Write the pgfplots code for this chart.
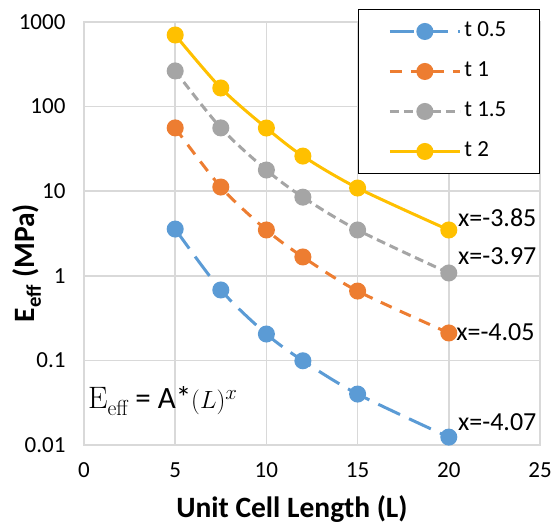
\documentclass[border=0pt]{standalone}
\usepackage{pgfplots}
\pgfplotsset{compat=1.18}
\usepackage{fontspec}
\setmainfont{Carlito}

\definecolor{cBlue}{HTML}{5B9BD5}
\definecolor{cOrange}{HTML}{ED7D31}
\definecolor{cGray}{HTML}{A5A5A5}
\definecolor{cGold}{HTML}{FFC000}
\definecolor{cGrid}{HTML}{D9D9D9}

\newcommand{\serif}{\fontfamily{lmr}\selectfont}

\begin{document}
\begin{tikzpicture}
\path[use as bounding box] (-84pt,-82pt) rectangle (473pt,445pt);
\begin{axis}[
  at={(0pt,0pt)}, anchor=south west,
  scale only axis, width=456pt, height=423pt,
  xmin=0, xmax=25, ymin=0.01, ymax=1000, ymode=log,
  xtick={0,5,10,15,20,25},
  ytick={0.01,0.1,1,10,100,1000},
  yticklabels={0.01,0.1,1,10,100,1000},
  /pgf/number format/assume math mode=true,
  grid=major, minor grid style={draw=none},
  grid style={cGrid, line width=1.5pt},
  axis line style={cGrid, line width=1.5pt},
  major tick length=0pt, minor tick length=0pt,
  tick style={draw=none},
  every tick label/.append style={font=\fontsize{23}{27}\selectfont, text=black},
  yticklabel style={xshift=-15pt},
  xticklabel style={yshift=-14pt},
  every axis y label/.style={at={(rel axis cs:-0.125,0.43)}, rotate=90, anchor=center},
  every axis x label/.style={at={(rel axis cs:0.456,-0.151)}, anchor=center},
  xlabel={\fontsize{29.5}{34}\selectfont\bfseries Unit Cell Length (L)},
  ylabel={\fontsize{29.5}{34}\selectfont\bfseries E\textsubscript{eff} (MPa)},
  legend image code/.code={%
    \draw[mark repeat=2, mark phase=2, #1] plot coordinates {(0pt,0pt) (35pt,0pt) (70pt,0pt)};},
  legend cell align=left,
  legend style={at={(rel axis cs:1,1.031)}, anchor=north east,
    draw=black, line width=1.2pt, fill=white,
    font=\fontsize{23}{27}\selectfont,
    inner xsep=30pt, inner ysep=2pt, row sep=0pt,
    nodes={inner xsep=3pt, inner ysep=0pt, text height=16pt, text depth=5pt, minimum height=40pt}},
  every axis plot/.append style={line width=3pt, mark=*, mark size=7pt, mark options={solid}, smooth},
]
% thickness t = 0.5
\addplot[color=cBlue, dash pattern=on 24pt off 10pt] coordinates {
  (5,3.57) (7.5,0.68) (10,0.205) (12,0.099) (15,0.040) (20,0.0124)};
\addlegendentry{t 0.5}
% thickness t = 1
\addplot[color=cOrange, dash pattern=on 12pt off 9pt] coordinates {
  (5,56) (7.5,11.2) (10,3.48) (12,1.67) (15,0.66) (20,0.211)};
\addlegendentry{t 1}
% thickness t = 1.5
\addplot[color=cGray, dash pattern=on 9pt off 5pt] coordinates {
  (5,264) (7.5,56) (10,17.8) (12,8.5) (15,3.48) (20,1.08)};
\addlegendentry{t 1.5}
% thickness t = 2
\addplot[color=cGold] coordinates {
  (5,702) (7.5,166) (10,55.8) (12,26) (15,10.9) (20,3.48)};
\addlegendentry{t 2}

% fitted exponents of the power law
\node[anchor=west, inner sep=0pt, font=\fontsize{26}{30}\selectfont] at (axis cs:20.5,4.82) {x=-3.85};
\node[anchor=west, inner sep=0pt, font=\fontsize{26}{30}\selectfont] at (axis cs:20.5,1.71) {x=-3.97};
\node[anchor=west, inner sep=0pt, font=\fontsize{26}{30}\selectfont] at (axis cs:20.4,0.217) {x=-4.05};
\node[anchor=west, inner sep=0pt, font=\fontsize{26}{30}\selectfont] at (axis cs:20.5,0.0187) {x=-4.07};
\node[anchor=base west, inner sep=0pt, font=\fontsize{31}{35}\selectfont] at (axis cs:0.22,0.0267)
  {{\serif E\textsubscript{eff}} = A*$(L)^{x}$};
\end{axis}
\end{tikzpicture}
\end{document}
